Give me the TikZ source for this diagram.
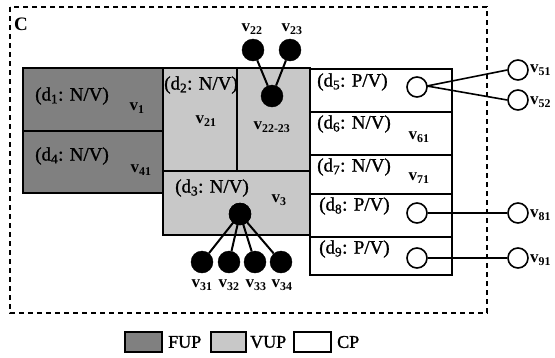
\documentclass[tikz,border=0pt]{standalone}
\usepackage{fontspec}
\setmainfont{Liberation Serif}
\newfontfamily\heavyserif[FakeBold=1.2]{Liberation Serif}
\definecolor{fupgray}{RGB}{128,128,128}
\definecolor{vupgray}{RGB}{200,200,200}
\begin{document}
\begin{tikzpicture}[x=1pt,y=-1pt,
  box/.style={draw=black,line width=2pt},
  fupbox/.style={box,fill=fupgray},
  vupbox/.style={box,fill=vupgray},
  cpbox/.style={box,fill=white},
  frame/.style={draw=black,line width=2.4pt,dash pattern=on 5pt off 4pt},
  dlab/.style={inner sep=0pt,font=\fontsize{19}{21}\heavyserif},
  vlab/.style={inner sep=0pt,font=\fontsize{17}{19}\selectfont\bfseries},
  leglab/.style={inner sep=0pt,anchor=west,font=\fontsize{18}{20}\heavyserif},
  bdot/.style={circle,fill=black,draw=black,minimum size=22pt,inner sep=0pt},
  odot/.style={circle,fill=white,draw=black,line width=1.6pt,minimum size=20pt,inner sep=0pt},
  blink/.style={draw=black,line width=2pt},
  olink/.style={draw=black,line width=1.6pt}
]
\useasboundingbox (0,0) rectangle (555,357);

% outer dashed frame with its label
\draw[frame] (10,7) rectangle (487,313);
\node[inner sep=0pt,font=\fontsize{19}{21}\selectfont\bfseries] (C) at (21,24) {C};

% fully used partitions
\draw[fupbox] (23,68) rectangle (163,131);
\draw[fupbox] (23,131) rectangle (163,193);

% variably used partitions
\draw[vupbox] (163,68) rectangle (237,171);
\draw[vupbox] (237,68) rectangle (310,171);
\draw[vupbox] (163,171) rectangle (310,235);

% candidate partitions
\draw[cpbox] (310,69) rectangle (452,112);
\draw[cpbox] (310,112) rectangle (452,155);
\draw[cpbox] (310,155) rectangle (452,194);
\draw[cpbox] (310,194) rectangle (452,237);
\draw[cpbox] (310,237) rectangle (452,275);

% partition labels
\node[dlab,anchor=west] (d1) at (35,96) {(d\textsubscript{1}: N/V)};
\node[vlab] (v1) at (137,108) {v\textsubscript{1}};
\node[dlab,anchor=west] (d4) at (35,156) {(d\textsubscript{4}: N/V)};
\node[vlab] (v41) at (141,170) {v\textsubscript{41}};
\node[dlab,anchor=west] (d2) at (164,85) {(d\textsubscript{2}: N/V)};
\node[vlab] (v21) at (206,121) {v\textsubscript{21}};
\node[vlab] (v2223l) at (272,127) {v\textsubscript{22-23}};
\node[dlab,anchor=west] (d3) at (175,188) {(d\textsubscript{3}: N/V)};
\node[vlab] (v3l) at (279,200) {v\textsubscript{3}};
\node[dlab,anchor=west] (d5) at (317,82) {(d\textsubscript{5}: P/V)};
\node[dlab,anchor=west] (d6) at (317,124) {(d\textsubscript{6}: N/V)};
\node[vlab] (v61) at (419,137) {v\textsubscript{61}};
\node[dlab,anchor=west] (d7) at (317,167) {(d\textsubscript{7}: N/V)};
\node[vlab] (v71) at (419,178) {v\textsubscript{71}};
\node[dlab,anchor=west] (d8) at (319,206) {(d\textsubscript{8}: P/V)};
\node[dlab,anchor=west] (d9) at (319,249) {(d\textsubscript{9}: P/V)};

% merged vertex v22-23 and its parts
\node[bdot] (v22) at (253,50) {};
\node[bdot] (v23) at (290,50) {};
\node[bdot] (v2223) at (272,96) {};
\draw[blink] (v22) -- (v2223);
\draw[blink] (v23) -- (v2223);
\node[vlab] (v22l) at (252,29) {v\textsubscript{22}};
\node[vlab] (v23l) at (292,29) {v\textsubscript{23}};

% vertex v3 and its parts
\node[bdot] (v3) at (240,214) {};
\node[bdot] (v31) at (202,262) {};
\node[bdot] (v32) at (229,262) {};
\node[bdot] (v33) at (255,262) {};
\node[bdot] (v34) at (281,262) {};
\foreach \k in {31,32,33,34} \draw[blink] (v3.center) -- (v\k);
\node[vlab] (v31l) at (202,285) {v\textsubscript{31}};
\node[vlab] (v32l) at (229,285) {v\textsubscript{32}};
\node[vlab] (v33l) at (256,285) {v\textsubscript{33}};
\node[vlab] (v34l) at (282,285) {v\textsubscript{34}};
\node[bdot] at (v3) {};

% placeholders in candidate partitions and their external vertices
\node[odot] (p5) at (417,87) {};
\node[odot] (p8) at (417,213) {};
\node[odot] (p9) at (417,258) {};
\node[odot] (v51) at (518,70) {};
\node[odot] (v52) at (518,100) {};
\node[odot] (v81) at (518,213) {};
\node[odot] (v91) at (518,258) {};
\coordinate (p5e) at (427,86);
\draw[olink] (p5e) -- (v51.west);
\draw[olink] (p5e) -- (v52.west);
\draw[olink] (p8.east) -- (v81.west);
\draw[olink] (p9.east) -- (v91.west);
\node[vlab,anchor=west] (v51l) at (530,70) {v\textsubscript{51}};
\node[vlab,anchor=west] (v52l) at (530,102) {v\textsubscript{52}};
\node[vlab,anchor=west] (v81l) at (530,215) {v\textsubscript{81}};
\node[vlab,anchor=west] (v91l) at (530,260) {v\textsubscript{91}};

% legend
\draw[fupbox] (125,332) rectangle (162,352);
\node[leglab] (lfup) at (168,342) {FUP};
\draw[vupbox] (211,332) rectangle (246,352);
\node[leglab] (lvup) at (250,342) {VUP};
\draw[cpbox] (294,332) rectangle (331,352);
\node[leglab] (lcp) at (337,342) {CP};
\end{tikzpicture}
\end{document}
